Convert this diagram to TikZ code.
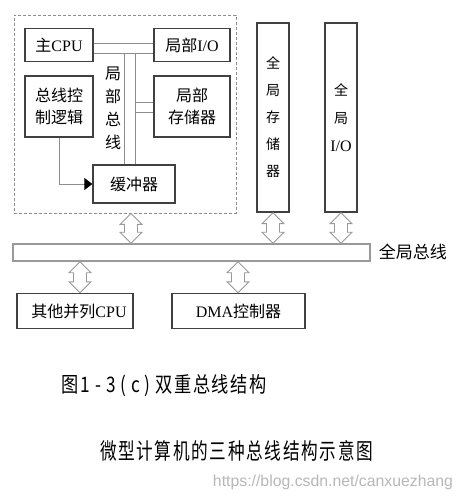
\documentclass[tikz,border=0pt]{standalone}
\usepackage{fontspec}
\usepackage{graphicx}
\setmainfont{Liberation Serif}
\newfontfamily\cjk{Noto Sans CJK SC}
\newfontfamily\cjkspaced[LetterSpace=10]{Noto Sans CJK SC}
\newfontfamily\wmfont{Liberation Sans}
\usetikzlibrary{arrows.meta,calc}
\tikzset{
  box/.style={draw=black!75, line width=1.3pt, fill=white, inner sep=0pt, align=center,
    font=\fontsize{16}{19}\selectfont},
  lbus/.style={draw=black!45, line width=0.9pt},
  harrow/.style={draw=black!40, line width=0.9pt, fill=white},
}
\newcommand\hollowarrow[3]{%
  \draw[harrow] let \p1=(#2), \p2=(#3) in
    ({#1pt},\y1) -- ({#1pt+11pt},{\y1-11pt}) -- ({#1pt+6.5pt},{\y1-11pt})
    -- ({#1pt+6.5pt},{\y2+11pt}) -- ({#1pt+11pt},{\y2+11pt}) -- ({#1pt},\y2)
    -- ({#1pt-11pt},{\y2+11pt}) -- ({#1pt-6.5pt},{\y2+11pt})
    -- ({#1pt-6.5pt},{\y1-11pt}) -- ({#1pt-11pt},{\y1-11pt}) -- cycle;}
\newcommand\gap{\hspace{0.28em}}
\begin{document}
\begin{tikzpicture}[x=1pt,y=-1pt]
\fill[white] (0,0) rectangle (462,500);
\useasboundingbox (0,0) rectangle (462,500);
% local area
\node[draw=black!45, line width=0.8pt, dash pattern=on 3pt off 2pt, minimum width=222pt,
  minimum height=198pt, inner sep=0pt] (local) at (125,114) {};
\node[box, minimum width=68pt, minimum height=33pt] (cpu) at (59,45) {{\cjk 主}CPU};
\node[box, minimum width=76pt, minimum height=33pt] (lio) at (192,45) {{\cjk 局部}I/O};
\node[box, minimum width=68pt, minimum height=61pt, font=\cjk\fontsize{16}{22}\selectfont] (ctl) at (59,106.5) {总线控\\制逻辑};
\node[box, minimum width=76pt, minimum height=61pt, font=\cjk\fontsize{16}{22}\selectfont] (lmem) at (192,106.5) {局部\\存储器};
\node[box, minimum width=82pt, minimum height=38pt, font=\cjk\fontsize{16}{19}\selectfont] (buf) at (134,184) {缓冲器};
% local bus
\draw[lbus] ([yshift=2pt]cpu.east) -- ([yshift=2pt]lio.west);
\draw[lbus] ([yshift=-8pt]cpu.east) -- ([yshift=-8pt]lio.west);
\coordinate (j1) at (124,53);
\coordinate (j2) at (135,53);
\draw[lbus] (j1) -- (j1 |- buf.north);
\draw[lbus] (j2) -- (j2 |- buf.north);
\coordinate (m1) at (135,102);
\coordinate (m2) at (135,112);
\draw[lbus] (m1) -- (m1 -| lmem.west);
\draw[lbus] (m2) -- (m2 -| lmem.west);
\node[font=\cjk\fontsize{16}{23}\selectfont, align=center, inner sep=0pt] (lbl) at (113,108) {局\\部\\总\\线};
\draw[draw=black!45, line width=0.9pt, -{Triangle[length=8pt,width=12pt,color=black,fill=black]}] (ctl.south) |- (buf.west);
% global units
\node[box, minimum width=32pt, minimum height=189pt, font=\cjk\fontsize{14}{27}\selectfont] (gmem) at (273,117.5) {全\\局\\存\\储\\器};
\node[box, minimum width=32pt, minimum height=189pt, font=\cjk\fontsize{14}{28}\selectfont] (gio) at (341,117.5) {全\\局\\{\rmfamily\fontsize{16}{28}\selectfont I/O}};
% global bus
\node[draw=black!40, line width=1.5pt, fill=white, minimum width=357pt, minimum height=17pt, inner sep=0pt] (bus) at (191.5,252.5) {};
\node[anchor=west, font=\cjk\fontsize{17}{17}\selectfont, inner sep=0pt] (buslbl) at ([xshift=8pt,yshift=1pt]bus.east) {全局总线};
\node[box, minimum width=116pt, minimum height=35pt] (ocpu) at (75,311) {\hspace*{8pt}{\cjk 其他并列}CPU};
\node[box, minimum width=133pt, minimum height=35pt] (dma) at (238.5,311) {DMA{\cjk 控制器}};
% hollow arrows
\hollowarrow{131}{local.south}{bus.north}
\hollowarrow{273}{gmem.south}{bus.north}
\hollowarrow{341}{gio.south}{bus.north}
\hollowarrow{80}{bus.south}{ocpu.north}
\hollowarrow{238}{bus.south}{dma.north}
% captions
\node[inner sep=0pt] (cap1) at (164.5,386) {\resizebox{205pt}{18pt}{\cjkspaced 图1\gap-\gap3\gap(\gap c\gap)\gap 双重总线结构}};
\node[inner sep=0pt] (cap2) at (236.5,451) {\resizebox{273pt}{19pt}{\cjkspaced 微型计算机的三种总线结构示意图}};
\node[inner sep=0pt, text=black!28] (wm) at (333,482) {\resizebox{240pt}{!}{\wmfont https://blog.csdn.net/canxuezhang}};
\end{tikzpicture}
\end{document}
